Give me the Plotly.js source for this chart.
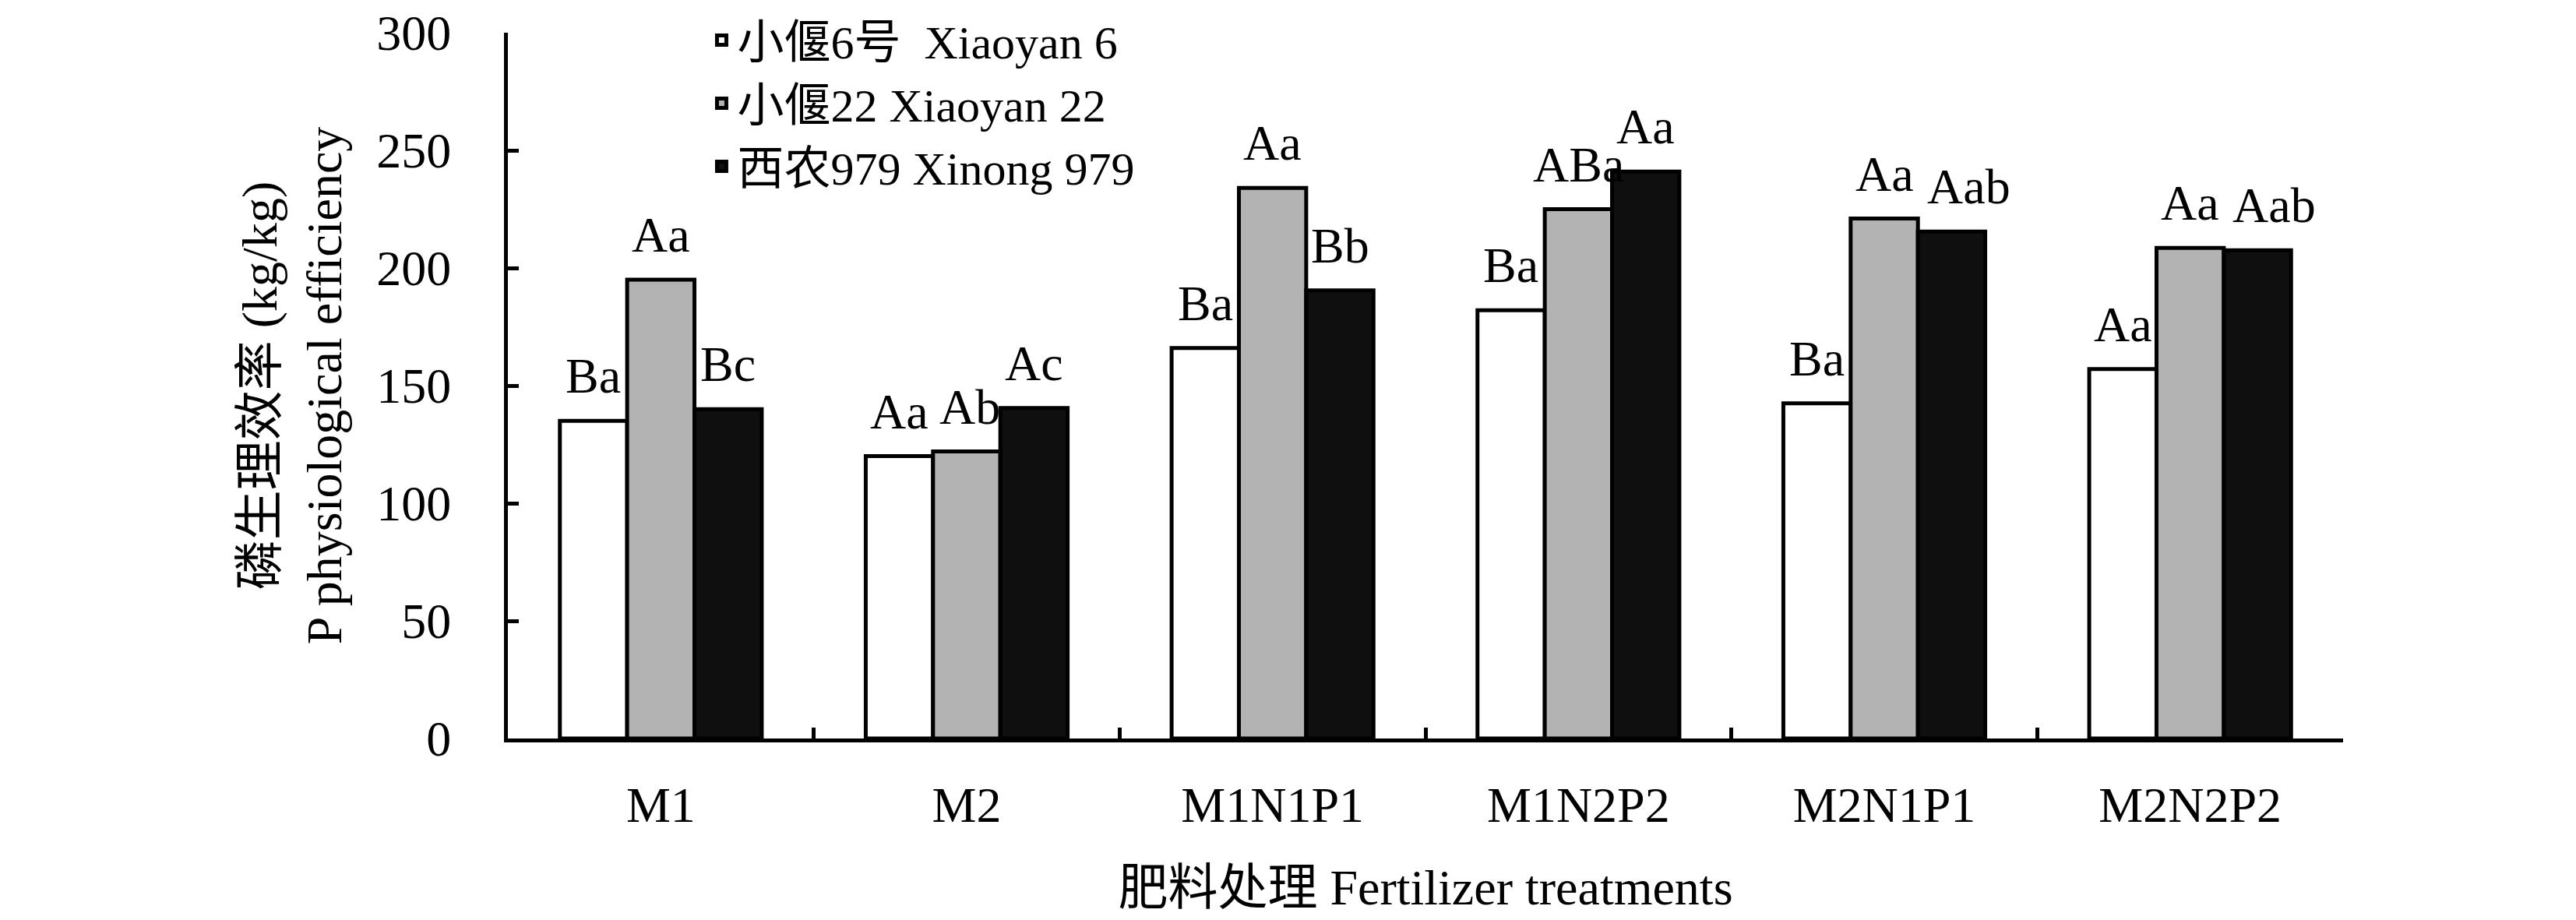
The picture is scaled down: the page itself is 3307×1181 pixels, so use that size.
<!DOCTYPE html>
<html>
<head>
<meta charset="utf-8">
<script src="https://cdn.plot.ly/plotly-3.0.1.min.js"></script>
<style>
html, body { margin: 0; padding: 0; background: #ffffff; }
#chart { width: 3307px; height: 1181px; }
</style>
</head>
<body>
<div id="chart"></div>
<script>
var categories = ['M1', 'M2', 'M1N1P1', 'M1N2P2', 'M2N1P1', 'M2N2P2'];
var seriesNames = ['小偃6号  Xiaoyan 6', '小偃22 Xiaoyan 22', '西农979 Xinong 979'];
var xiaoyan6 = [135, 120, 166, 182, 142.5, 157];
var xiaoyan22 = [195, 122, 234, 225, 221, 208.5];
var xinong979 = [140, 140.5, 190.5, 241, 215.5, 207.5];
var labels6 = ['Ba', 'Aa', 'Ba', 'Ba', 'Ba', 'Aa'];
var labels22 = ['Aa', 'Ab', 'Aa', 'ABa', 'Aa', 'Aa'];
var labels979 = ['Bc', 'Ac', 'Bb', 'Aa', 'Aab', 'Aab'];
var yTickVals = [0, 50, 100, 150, 200, 250, 300];

var FONT = '"Liberation Serif", "Times New Roman", "Noto Sans CJK SC", serif';
var FS = 64;
var W = 3307, H = 1181;
var MARGIN = { l: 652, r: 299, t: 0, b: 233, pad: 0 };
var PLOT_TOP = 42;           // top of the y axis, in px from the top of the figure
var BARGAP = 0.34;
var YMAX = 300;
var paperH = H - MARGIN.t - MARGIN.b;
var yDomainTop = (paperH - PLOT_TOP) / paperH;

function barTrace(name, values, fill) {
  return {
    type: 'bar',
    name: name,
    x: categories,
    y: values,
    marker: { color: fill, line: { color: '#000000', width: 5 } },
    hoverinfo: 'x+y'
  };
}

var data = [
  barTrace(seriesNames[0], xiaoyan6, '#ffffff'),
  barTrace(seriesNames[1], xiaoyan22, '#b3b3b3'),
  barTrace(seriesNames[2], xinong979, '#0f0f0f')
];

// significance letters above each bar, positioned through the axes; bar width derived from the layout.
// A label that would collide with its left neighbour is nudged right.
var seriesValues = [xiaoyan6, xiaoyan22, xinong979];
var seriesLabels = [labels6, labels22, labels979];
var nS = seriesValues.length;
var plotW = W - MARGIN.l - MARGIN.r;
var plotH = paperH - PLOT_TOP;
var barW = plotW / categories.length * (1 - BARGAP) / nS;
var pxPerUnit = plotH / YMAX;
var annotations = [];
categories.forEach(function (cat, i) {
  var prevRight = null, prevV = null;
  for (var s = 0; s < nS; s++) {
    var v = seriesValues[s][i];
    var txt = seriesLabels[s][i];
    var w = txt.length * 0.55 * FS;
    var shift = (s - (nS - 1) / 2) * barW;
    if (prevRight !== null && Math.abs(v - prevV) * pxPerUnit < 0.7 * FS) {
      var gap = (shift - w / 2) - prevRight;
      if (gap < 20) shift += 20 - gap;
    }
    prevRight = shift + w / 2;
    prevV = v;
    annotations.push({
      x: cat, y: v, xref: 'x', yref: 'y',
      text: txt,
      showarrow: false,
      xanchor: 'center', yanchor: 'bottom',
      xshift: shift,
      yshift: 20,
      font: { family: FONT, size: FS, color: '#000000' }
    });
  }
});

var layout = {
  width: W,
  height: H,
  paper_bgcolor: '#ffffff',
  plot_bgcolor: '#ffffff',
  font: { family: FONT, size: FS, color: '#000000' },
  margin: MARGIN,
  barmode: 'group',
  bargap: BARGAP,
  bargroupgap: 0,
  showlegend: true,
  legend: {
    x: 0.108, y: 0.9937, xanchor: 'left', yanchor: 'top',
    bgcolor: 'rgba(0,0,0,0)',
    font: { family: FONT, size: 60, color: '#000000' },
    traceorder: 'normal',
    tracegroupgap: 0
  },
  annotations: annotations,
  xaxis: {
    type: 'category',
    showline: true, linecolor: '#000000', linewidth: 5,
    ticks: 'inside', tickson: 'boundaries', ticklen: 14, tickwidth: 5, tickcolor: '#000000',
    ticklabelstandoff: 25,
    tickfont: { family: FONT, size: FS, color: '#000000' },
    showgrid: false, zeroline: false,
    title: { text: '肥料处理 Fertilizer treatments', standoff: 50, font: { family: FONT, size: FS, color: '#000000' } }
  },
  yaxis: {
    domain: [0, yDomainTop],
    range: [0, YMAX],
    tickvals: yTickVals,
    showline: true, linecolor: '#000000', linewidth: 5,
    ticks: 'inside', ticklen: 14, tickwidth: 5, tickcolor: '#000000',
    ticklabelstandoff: 55,
    tickfont: { family: FONT, size: FS, color: '#000000' },
    showgrid: false, zeroline: false,
    title: { text: '磷生理效率 (kg/kg)<br>P physiological efficiency', standoff: 25, font: { family: FONT, size: FS, color: '#000000' } }
  }
};

Plotly.newPlot('chart', data, layout, { displayModeBar: false, staticPlot: true });
</script>
</body>
</html>
